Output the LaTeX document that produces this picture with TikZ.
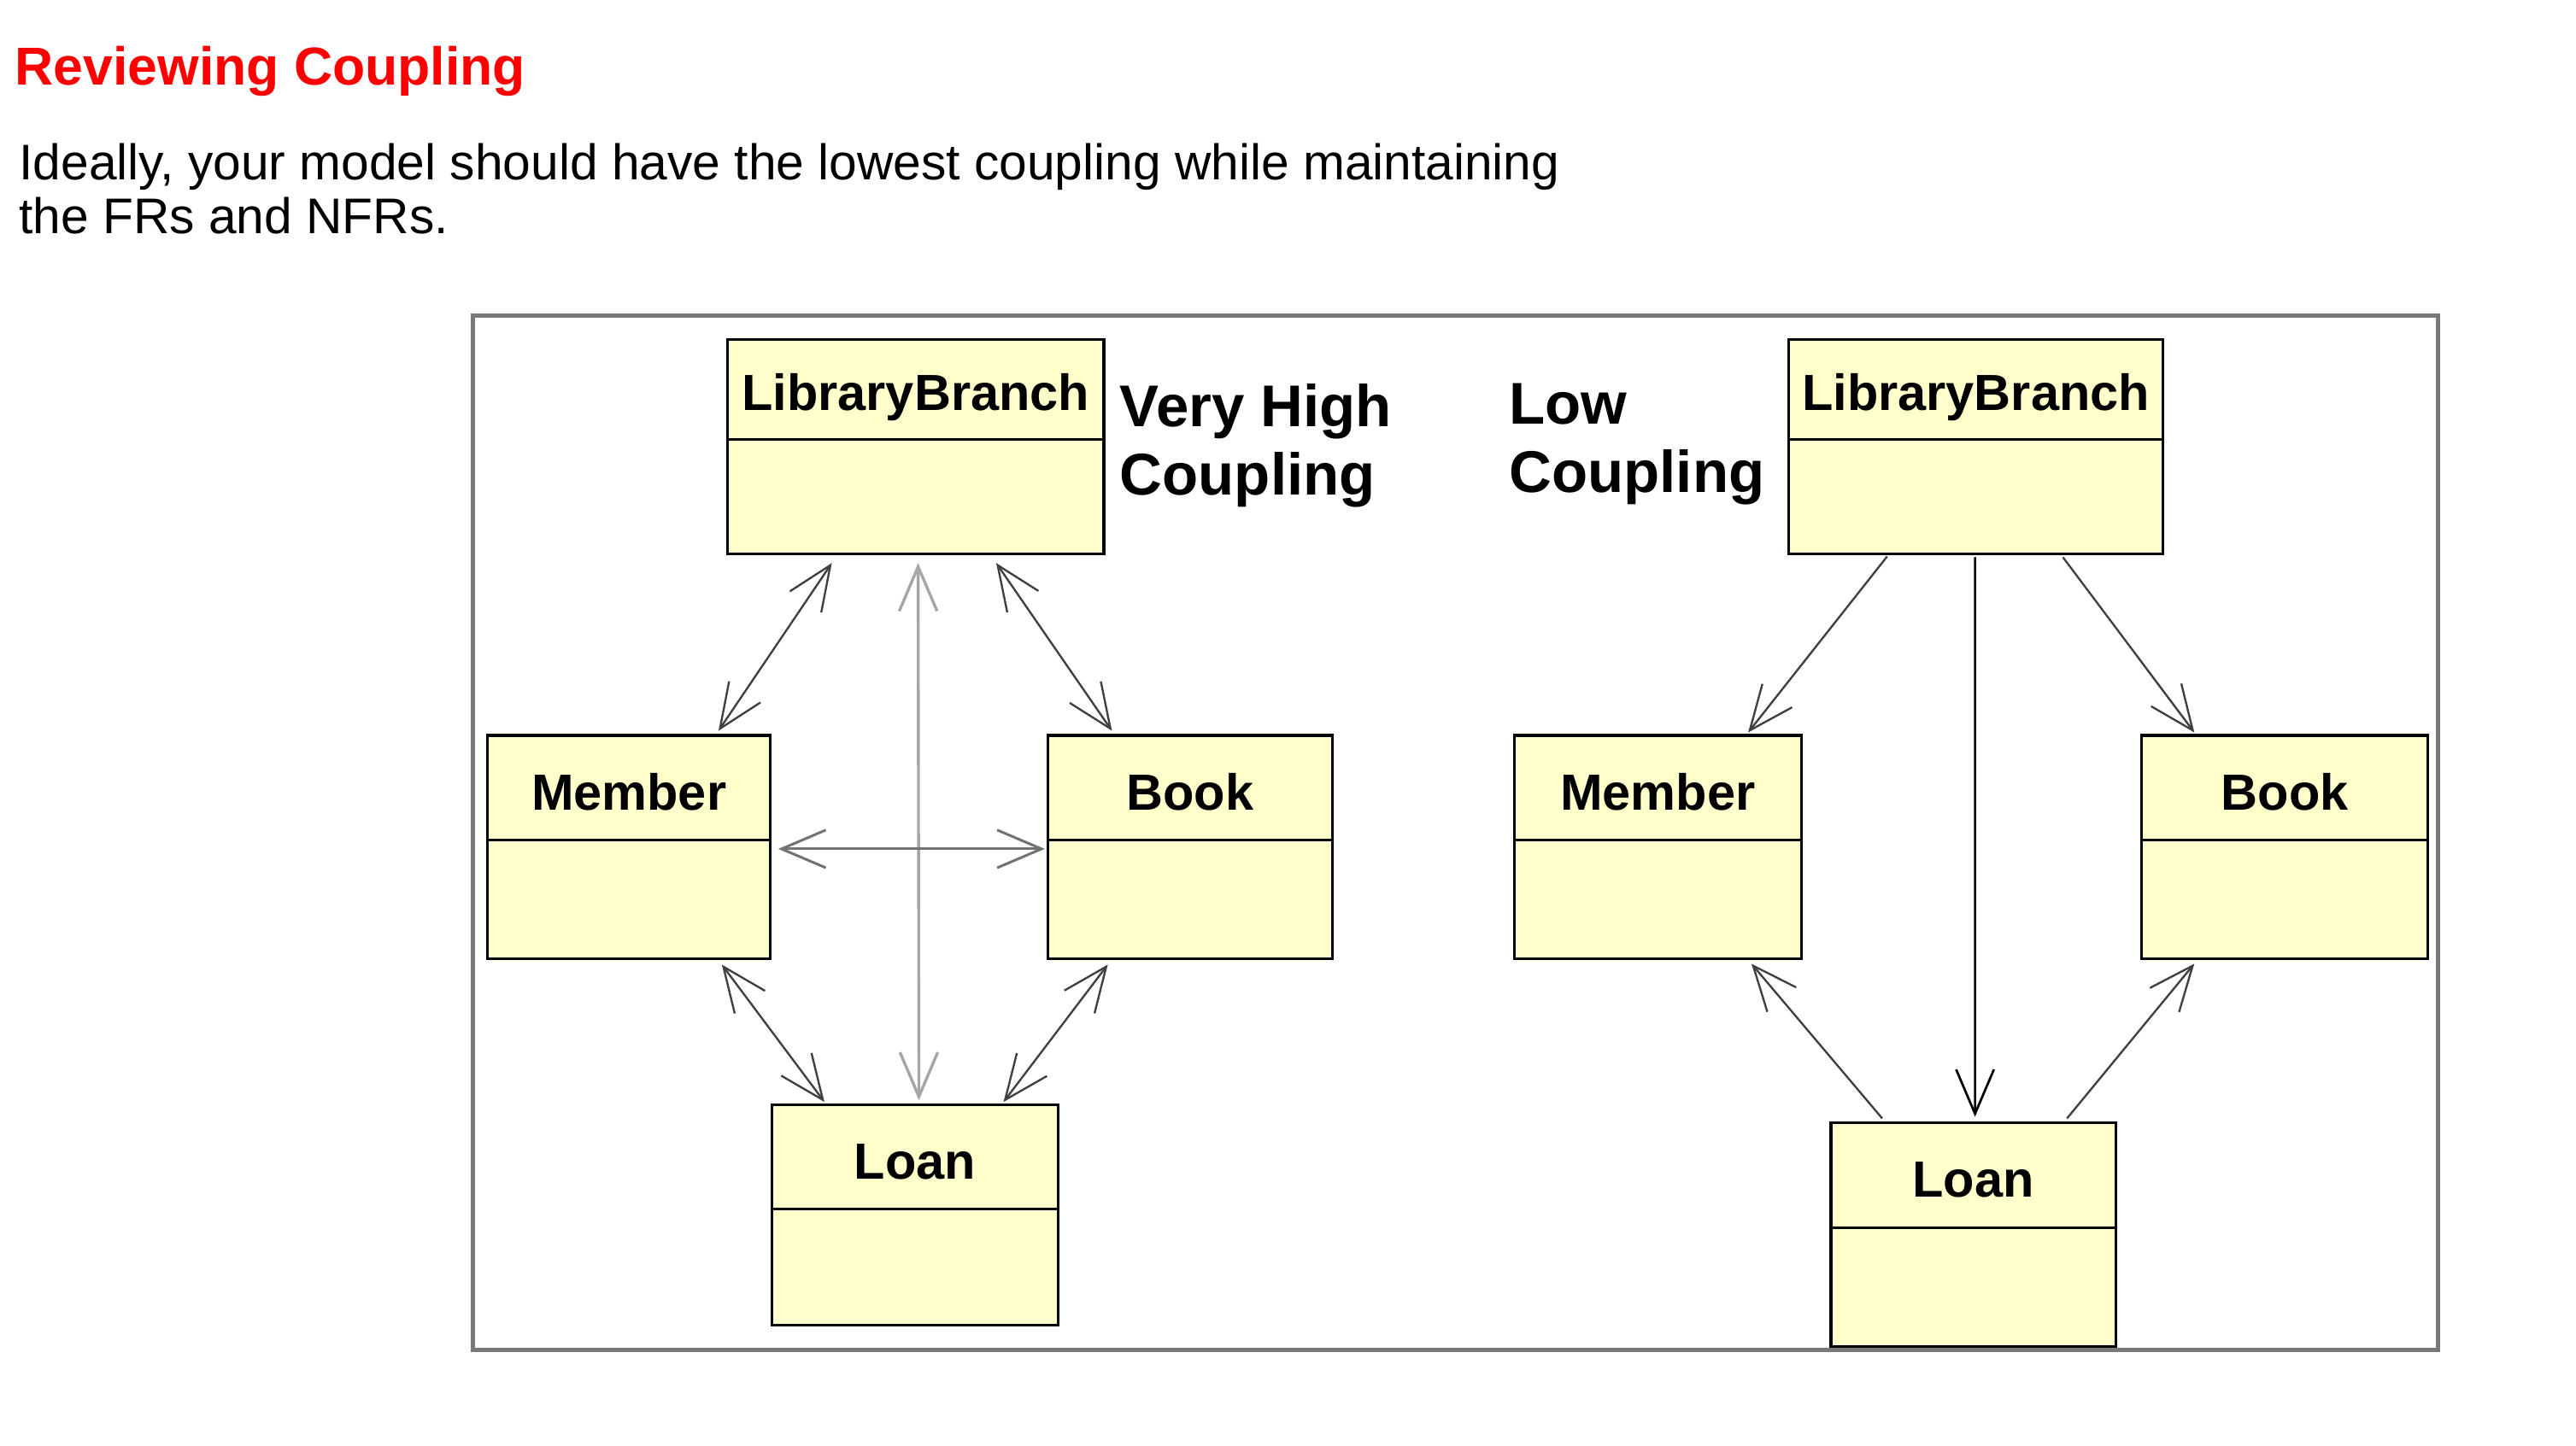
\documentclass[tikz,border=0pt]{standalone}
\usepackage{fontspec}
\setmainfont{Liberation Sans}
\usepackage{tikz}
\usetikzlibrary{calc, arrows.meta, shapes.multipart}
\definecolor{clsfill}{RGB}{255,255,204}
\definecolor{frm}{RGB}{120,120,120}
\definecolor{ttl}{RGB}{255,0,0}
\tikzstyle{cls}=[draw, fill=clsfill, line width=0.45pt, rectangle split, rectangle split parts=2, inner sep=0pt, align=center, anchor=north west, font=\bfseries\fontsize{8.8}{10}\selectfont]
\tikzstyle{lbl}=[inner sep=0pt, anchor=base west, align=left]
\tikzstyle{dbl}=[{Straight Barb[length=2.7mm,width=2.3mm]}-{Straight Barb[length=2.7mm,width=2.3mm]}, black!75, line width=0.35pt]
\tikzstyle{one}=[-{Straight Barb[length=2.7mm,width=2.3mm]}, black!75, line width=0.35pt]
\newcommand{\hd}{\rule[-1.75mm]{0pt}{6.2mm}}
\newcommand{\hdlb}{\rule[-1.65mm]{0pt}{5.9mm}}

\begin{document}
\begin{tikzpicture}[x=0.01cm, y=-0.01cm]
\useasboundingbox (0,0) rectangle (1568,880);
\node[lbl, text=ttl, font=\bfseries\fontsize{9.25}{11}\selectfont] (title) at (8.4,52) {Reviewing Coupling};
% base of a two-line node sits on its last line
\node[lbl, font=\fontsize{8.68}{9.36}\selectfont] (intro) at (11,142.5) {Ideally, your model should have the lowest coupling while maintaining\\the FRs and NFRs.};
\draw[frm, line width=0.7pt] (288,192) rectangle (1484,822);

% very high coupling
\node[cls, text width=2.29cm] (lbH) at (442,206) {\hdlb LibraryBranch\nodepart{second}\rule{0pt}{6.8mm}};
\node[cls, text width=1.72cm] (memH) at (296,447) {\hd Member\nodepart{second}\rule{0pt}{7.1mm}};
\node[cls, text width=1.73cm] (bookH) at (637,447) {\hd Book\nodepart{second}\rule{0pt}{7.1mm}};
\node[cls, text width=1.74cm] (loanH) at (469,672) {\hd Loan\nodepart{second}\rule{0pt}{6.9mm}};
\node[lbl, font=\bfseries\fontsize{10.2}{11.95}\selectfont] (high) at (681,301.6) {Very High\\Coupling};

\draw[dbl] ($(lbH.south)+(-51,5)$) -- ($(memH.north)+(54.5,-2)$);
\draw[dbl] ($(lbH.south)+(49,5)$) -- ($(bookH.north)+(-47.5,-2)$);
\draw[dbl, black!35, line width=0.5pt] ($(lbH.south)+(1.5,5)$) -- ($(loanH.north)+(2.5,-2)$);
\draw[dbl, black!55, line width=0.45pt] ($(memH.east)+(4,1)$) -- ($(bookH.west)+(-1,1)$);
\draw[dbl] ($(memH.south)+(56.5,2.5)$) -- ($(loanH.north)+(-55,-1)$);
\draw[dbl] ($(bookH.south)+(-50,2.5)$) -- ($(loanH.north)+(54,-1)$);

% low coupling
\node[cls, text width=2.277cm] (lbL) at (1088,206) {\hdlb LibraryBranch\nodepart{second}\rule{0pt}{6.8mm}};
\node[cls, text width=1.745cm] (memL) at (921,447) {\hd Member\nodepart{second}\rule{0pt}{7.1mm}};
\node[cls, text width=1.743cm] (bookL) at (1302.7,447) {\hd Book\nodepart{second}\rule{0pt}{7.1mm}};
\node[cls, text width=1.733cm] (loanL) at (1113.7,683) {\hd Loan\nodepart{second}\rule{0pt}{7.1mm}};
\node[lbl, font=\bfseries\fontsize{10.2}{11.95}\selectfont] (low) at (918,300) {Low\\Coupling};

\draw[one] ($(lbL.south)+(-54,1)$) -- ($(memL.north)+(55,-1)$);
\draw[one] ($(lbL.south)+(53,1.5)$) -- ($(bookL.north)+(-55,-1)$);
\draw[one, black, line width=0.4pt] ($(lbL.south)+(-0.5,1.5)$) -- ($(loanL.north)+(1,-3)$);
\draw[one] ($(loanL.north)+(-55.5,-2)$) -- ($(memL.south)+(57,2)$);
\draw[one] ($(loanL.north)+(57,-2)$) -- ($(bookL.south)+(-55,2)$);
\end{tikzpicture}
\end{document}
